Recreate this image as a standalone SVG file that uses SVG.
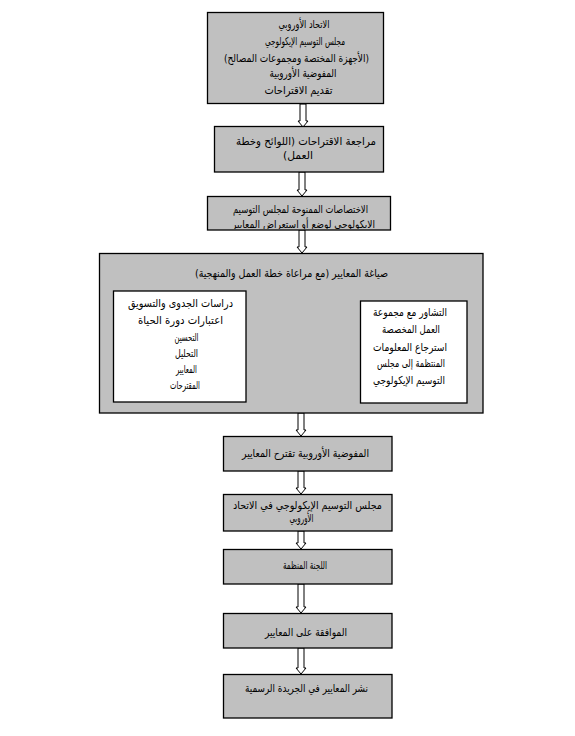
<svg xmlns="http://www.w3.org/2000/svg" width="575" height="736" viewBox="0 0 575 736">
<style>
.box{fill:#c0c0c0;stroke:#000;stroke-width:1.3}
.inner{fill:#fff;stroke:#000;stroke-width:1.3}
.arr{fill:#fff;stroke:#000;stroke-width:1}
text{font-family:"DejaVu Sans",sans-serif;font-size:11px;fill:#000;text-anchor:middle;direction:rtl}
</style>
<defs>
<clipPath id="c3"><rect x="208" y="197" width="182" height="32"/></clipPath>
</defs>
<rect width="575" height="736" fill="#fff"/>
<g id="connectors">
<polygon class="arr" points="300,104 306,104 306,121 308,121 303,127 298,121 300,121"/>
<polygon class="arr" points="299,172 305,172 305,190 307,190 302,196 297,190 299,190"/>
<polygon class="arr" points="299,230 305,230 305,247 307,247 302,253 297,247 299,247"/>
<polygon class="arr" points="298,413 304,413 304,430 306,430 301,436 296,430 298,430"/>
<polygon class="arr" points="298,471 304,471 304,488 306,488 301,494 296,488 298,488"/>
<polygon class="arr" points="298,531 304,531 304,543 306,543 301,549 296,543 298,543"/>
<polygon class="arr" points="298,584 304,584 304,607 306,607 301,613 296,607 298,607"/>
<polygon class="arr" points="298,648 304,648 304,668 306,668 301,674 296,668 298,668"/>
</g>
<g id="n1">
<rect class="box" x="207.5" y="12.5" width="176" height="91"/>
<text x="304" y="28" textLength="51" lengthAdjust="spacingAndGlyphs">الاتحاد الأوروبي</text>
<text x="305" y="45" textLength="80" lengthAdjust="spacingAndGlyphs">مجلس التوسيم الإيكولوجي</text>
<text x="296.5" y="62" textLength="145" lengthAdjust="spacingAndGlyphs">(الأجهزة المختصة ومجموعات المصالح)</text>
<text x="303" y="77" textLength="67" lengthAdjust="spacingAndGlyphs">المفوضية الأوروبية</text>
<text x="298.5" y="94" textLength="68" lengthAdjust="spacingAndGlyphs">تقديم الاقتراحات</text>
</g>
<g id="n2">
<rect class="box" x="214.5" y="126.5" width="169" height="45.5"/>
<text x="306" y="145" textLength="140" lengthAdjust="spacingAndGlyphs">مراجعة الاقتراحات (اللوائح وخطة</text>
<text x="298" y="159" textLength="30" lengthAdjust="spacingAndGlyphs">العمل)</text>
</g>
<g id="n3">
<rect class="box" x="207.5" y="196.5" width="183" height="33.5"/>
<g clip-path="url(#c3)">
<text x="300.5" y="213" textLength="135" lengthAdjust="spacingAndGlyphs">الاختصاصات الممنوحة لمجلس التوسيم</text>
<text x="303.5" y="228" textLength="143" lengthAdjust="spacingAndGlyphs">الايكولوجي لوضع أو استعراض المعايير</text>
</g>
</g>
<g id="n4">
<rect class="box" x="99.5" y="253.5" width="383.5" height="159.5"/>
<text x="291.5" y="277" textLength="193" lengthAdjust="spacingAndGlyphs">صياغة المعايير (مع مراعاة خطة العمل والمنهجية)</text>
</g>
<g id="n4a">
<rect class="inner" x="113.5" y="291" width="132.5" height="111"/>
<text x="180.5" y="307" textLength="105" lengthAdjust="spacingAndGlyphs">دراسات الجدوى والتسويق</text>
<text x="180.5" y="324" textLength="85" lengthAdjust="spacingAndGlyphs">اعتبارات دورة الحياة</text>
<text x="186.5" y="341" textLength="24" lengthAdjust="spacingAndGlyphs">التحسين</text>
<text x="186.5" y="357" textLength="23" lengthAdjust="spacingAndGlyphs">التحليل</text>
<text x="186.5" y="373" textLength="21" lengthAdjust="spacingAndGlyphs">المعايير</text>
<text x="185" y="389" textLength="30" lengthAdjust="spacingAndGlyphs">المقترحات</text>
</g>
<g id="n4b">
<rect class="inner" x="360.5" y="301" width="106.5" height="102"/>
<text x="410" y="316" textLength="74" lengthAdjust="spacingAndGlyphs">التشاور مع مجموعة</text>
<text x="411" y="333" textLength="58" lengthAdjust="spacingAndGlyphs">العمل المخصصة</text>
<text x="410" y="351" textLength="74" lengthAdjust="spacingAndGlyphs">استرجاع المعلومات</text>
<text x="411" y="367" textLength="68" lengthAdjust="spacingAndGlyphs">المنتظمة إلى مجلس</text>
<text x="409" y="384" textLength="72" lengthAdjust="spacingAndGlyphs">التوسيم الإيكولوجي</text>
</g>
<g id="n5">
<rect class="box" x="223.5" y="436.5" width="168.5" height="34.5"/>
<text x="305.5" y="457" textLength="127" lengthAdjust="spacingAndGlyphs">المفوضية الأوروبية تقترح المعايير</text>
</g>
<g id="n6">
<rect class="box" x="223.5" y="494.5" width="168.5" height="36.5"/>
<text x="307.5" y="509" textLength="149" lengthAdjust="spacingAndGlyphs">مجلس التوسيم الإيكولوجي في الاتحاد</text>
<text x="301.5" y="522" textLength="24" lengthAdjust="spacingAndGlyphs">الأوروبي</text>
</g>
<g id="n7">
<rect class="box" x="223.5" y="549.5" width="168.5" height="34.5"/>
<text x="305" y="569" textLength="44" lengthAdjust="spacingAndGlyphs">اللجنة المنظمة</text>
</g>
<g id="n8">
<rect class="box" x="223.5" y="613.5" width="168.5" height="34.5"/>
<text x="306" y="636" textLength="82" lengthAdjust="spacingAndGlyphs">الموافقة على المعايير</text>
</g>
<g id="n9">
<rect class="box" x="223.5" y="674.5" width="168.5" height="43.5"/>
<text x="306.5" y="692" textLength="123" lengthAdjust="spacingAndGlyphs">نشر المعايير في الجريدة الرسمية</text>
</g>
</svg>
